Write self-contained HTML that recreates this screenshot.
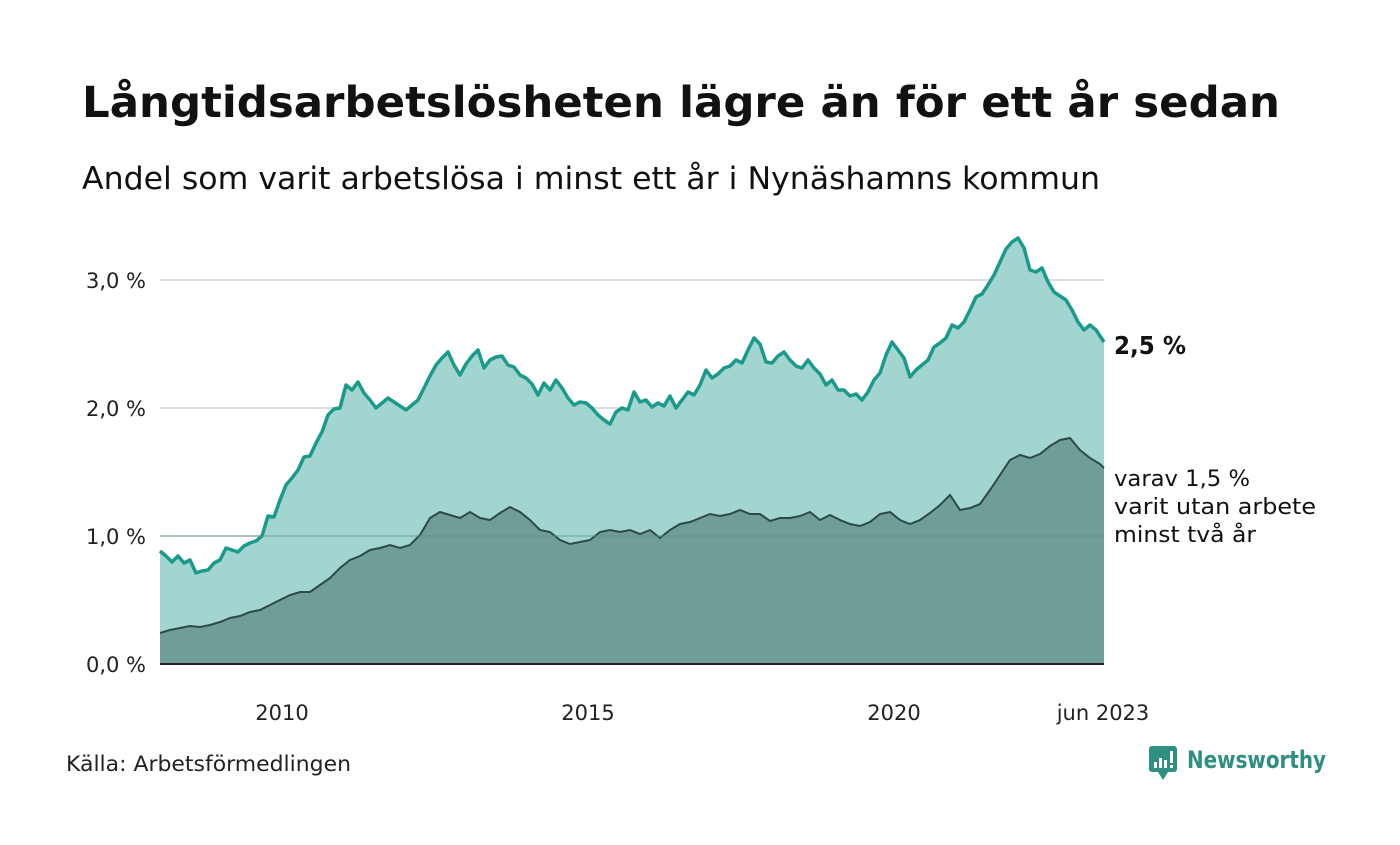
<!DOCTYPE html>
<html><head><meta charset="utf-8"><style>
body{margin:0;background:#fff;font-family:"Liberation Sans","DejaVu Sans",sans-serif;}
</style></head><body>
<svg width="1400" height="840" xmlns="http://www.w3.org/2000/svg" font-family="'DejaVu Sans','Liberation Sans',sans-serif">
<rect width="1400" height="840" fill="#fff"/>
<text x="82" y="117" font-size="43" font-weight="bold" fill="#111" textLength="1198" lengthAdjust="spacingAndGlyphs">Långtidsarbetslösheten lägre än för ett år sedan</text>
<text x="82" y="189" font-size="31" fill="#111" textLength="1018" lengthAdjust="spacingAndGlyphs">Andel som varit arbetslösa i minst ett år i Nynäshamns kommun</text>
<g stroke="#ddd" stroke-width="2"><line x1="160" y1="280" x2="1104" y2="280"/><line x1="160" y1="408" x2="1104" y2="408"/><line x1="160" y1="536" x2="1104" y2="536"/></g>
<g font-size="21" fill="#222" text-anchor="end"><text x="146" y="288">3,0 %</text><text x="146" y="416">2,0 %</text><text x="146" y="544">1,0 %</text><text x="146" y="672">0,0 %</text></g>
<polygon fill="#a3d5d0" points="160,664 160,551 166,556 172,562 178,556 184,563 190,560 196,573 202,571 208,570 214,563 220,560 226,548 232,550 238,552 244,546 250,543 256,541 262,536 268,516 274,517 280,500 286,485 292,478 298,470 304,457 310,456 316,443 322,432 328,415 334,409 340,408 346,385 352,390 358,382 364,393 370,400 376,408 382,403 388,398 394,402 400,406 406,410 412,405 418,400 424,388 430,376 436,365 442,358 448,352 454,365 460,375 466,364 472,356 478,350 484,368 490,360 496,357 502,356 508,365 514,367 520,375 526,378 532,384 538,395 544,383 550,390 556,380 562,388 568,398 574,405 580,402 586,403 592,408 598,415 604,420 610,424 616,412 622,408 628,410 634,392 640,402 646,400 652,407 658,403 664,406 670,396 676,408 682,400 688,392 694,395 700,385 706,370 712,378 718,374 724,368 730,366 736,360 742,363 748,350 754,338 760,344 766,362 772,363 778,356 784,352 790,360 796,366 802,368 808,360 814,368 820,374 826,385 832,380 838,390 844,390 850,396 856,394 862,400 868,392 874,380 880,373 886,355 892,342 898,350 904,358 910,377 916,370 922,365 928,360 934,347 940,343 946,338 952,325 958,328 964,322 970,310 976,297 982,294 988,285 994,275 1000,262 1006,249 1012,242 1018,238 1024,248 1030,270 1036,272 1042,268 1048,282 1054,292 1060,296 1066,300 1072,310 1078,322 1084,330 1090,325 1096,330 1104,342 1104,664"/>
<polyline fill="none" stroke="#1a9a8a" stroke-width="3.5" stroke-linejoin="round" points="160,551 166,556 172,562 178,556 184,563 190,560 196,573 202,571 208,570 214,563 220,560 226,548 232,550 238,552 244,546 250,543 256,541 262,536 268,516 274,517 280,500 286,485 292,478 298,470 304,457 310,456 316,443 322,432 328,415 334,409 340,408 346,385 352,390 358,382 364,393 370,400 376,408 382,403 388,398 394,402 400,406 406,410 412,405 418,400 424,388 430,376 436,365 442,358 448,352 454,365 460,375 466,364 472,356 478,350 484,368 490,360 496,357 502,356 508,365 514,367 520,375 526,378 532,384 538,395 544,383 550,390 556,380 562,388 568,398 574,405 580,402 586,403 592,408 598,415 604,420 610,424 616,412 622,408 628,410 634,392 640,402 646,400 652,407 658,403 664,406 670,396 676,408 682,400 688,392 694,395 700,385 706,370 712,378 718,374 724,368 730,366 736,360 742,363 748,350 754,338 760,344 766,362 772,363 778,356 784,352 790,360 796,366 802,368 808,360 814,368 820,374 826,385 832,380 838,390 844,390 850,396 856,394 862,400 868,392 874,380 880,373 886,355 892,342 898,350 904,358 910,377 916,370 922,365 928,360 934,347 940,343 946,338 952,325 958,328 964,322 970,310 976,297 982,294 988,285 994,275 1000,262 1006,249 1012,242 1018,238 1024,248 1030,270 1036,272 1042,268 1048,282 1054,292 1060,296 1066,300 1072,310 1078,322 1084,330 1090,325 1096,330 1104,342"/>
<polygon fill="#6f9e97" points="160,664 160,633 170,630 180,628 190,626 200,627 210,625 220,622 230,618 240,616 250,612 260,610 270,605 280,600 290,595 300,592 310,592 320,585 330,578 340,568 350,560 360,556 370,550 380,548 390,545 400,548 410,545 420,535 430,518 440,512 450,515 460,518 470,512 480,518 490,520 500,513 510,507 520,512 530,520 540,530 550,532 560,540 570,544 580,542 590,540 600,532 610,530 620,532 630,530 640,534 650,530 660,538 670,530 680,524 690,522 700,518 710,514 720,516 730,514 740,510 750,514 760,514 770,521 780,518 790,518 800,516 810,512 820,520 830,515 840,520 850,524 860,526 870,522 880,514 890,512 900,520 910,524 920,520 930,513 940,505 950,495 960,510 970,508 980,504 990,490 1000,475 1010,460 1020,455 1030,458 1040,454 1050,446 1060,440 1070,438 1080,450 1090,458 1100,464 1104,468 1104,664"/>
<polyline fill="none" stroke="#2d4a45" stroke-width="2" points="160,633 170,630 180,628 190,626 200,627 210,625 220,622 230,618 240,616 250,612 260,610 270,605 280,600 290,595 300,592 310,592 320,585 330,578 340,568 350,560 360,556 370,550 380,548 390,545 400,548 410,545 420,535 430,518 440,512 450,515 460,518 470,512 480,518 490,520 500,513 510,507 520,512 530,520 540,530 550,532 560,540 570,544 580,542 590,540 600,532 610,530 620,532 630,530 640,534 650,530 660,538 670,530 680,524 690,522 700,518 710,514 720,516 730,514 740,510 750,514 760,514 770,521 780,518 790,518 800,516 810,512 820,520 830,515 840,520 850,524 860,526 870,522 880,514 890,512 900,520 910,524 920,520 930,513 940,505 950,495 960,510 970,508 980,504 990,490 1000,475 1010,460 1020,455 1030,458 1040,454 1050,446 1060,440 1070,438 1080,450 1090,458 1100,464 1104,468"/>
<line x1="160" y1="536" x2="1104" y2="536" stroke="#5f8f88" stroke-width="1.5" opacity="0.5"/>
<line x1="160" y1="664" x2="1104" y2="664" stroke="#222" stroke-width="2"/>
<g font-size="21" fill="#222" text-anchor="middle"><text x="282" y="720">2010</text><text x="588" y="720">2015</text><text x="894" y="720">2020</text><text x="1103" y="720">jun 2023</text></g>
<text x="1114" y="354" font-size="25" font-weight="bold" fill="#111" textLength="72" lengthAdjust="spacingAndGlyphs">2,5 %</text>
<g font-size="22" fill="#111"><text x="1114" y="486" textLength="136" lengthAdjust="spacingAndGlyphs">varav 1,5 %</text><text x="1114" y="514" textLength="202" lengthAdjust="spacingAndGlyphs">varit utan arbete</text><text x="1114" y="542" textLength="142" lengthAdjust="spacingAndGlyphs">minst två år</text></g>
<text x="66" y="771" font-size="21" fill="#222" textLength="285" lengthAdjust="spacingAndGlyphs">Källa: Arbetsförmedlingen</text>
<rect x="1149" y="746" width="28" height="26" rx="3" fill="#2f8f80"/>
<polygon points="1158,772 1163,780 1168,772" fill="#2f8f80"/>
<g fill="#fff"><rect x="1154" y="762" width="3" height="6"/><rect x="1159" y="758" width="3" height="10"/><rect x="1164" y="760" width="3" height="8"/><rect x="1170" y="751" width="3" height="12"/><rect x="1170" y="765" width="3" height="3"/></g>
<text x="1187" y="768" font-size="24" font-weight="bold" fill="#2f8f80" textLength="139" lengthAdjust="spacingAndGlyphs">Newsworthy</text>
</svg>
</body></html>
